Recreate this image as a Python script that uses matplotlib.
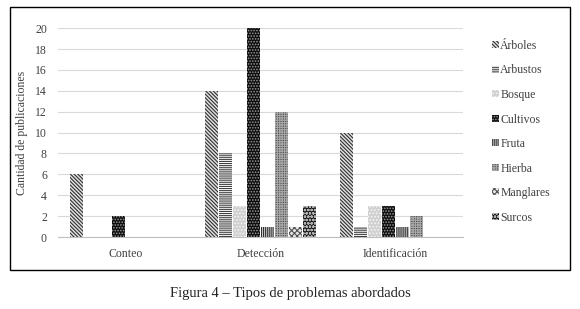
import matplotlib.pyplot as plt
import numpy as np
from matplotlib.patches import Rectangle

categorias = ["Conteo", "Detección", "Identificación"]
series = ["Árboles", "Arbustos", "Bosque", "Cultivos", "Fruta", "Hierba", "Manglares", "Surcos"]
arboles = [6, 14, 10]
arbustos = [0, 8, 1]
bosque = [0, 3, 3]
cultivos = [2, 20, 3]
fruta = [0, 1, 1]
hierba = [0, 12, 2]
manglares = [0, 1, 0]
surcos = [0, 3, 0]
valores = [arboles, arbustos, bosque, cultivos, fruta, hierba, manglares, surcos]

# (facecolor, hatch colour, hatch)
estilos = [
    ("#e0e0e0", "#303030", "\\" * 9),
    ("white", "#404040", "-" * 8),
    ("#d0d0d0", "#f4f4f4", "." * 5),
    ("#0d0d0d", "#9a9a9a", "." * 6),
    ("#d0d0d0", "#303030", "|" * 8),
    ("#505050", "#a8a8a8", "+" * 7),
    ("#e8e8e8", "#505050", "x" * 6),
    ("#151515", "#b0b0b0", "o" * 5),
]

plt.rcParams['font.family'] = ['Liberation Serif', 'DejaVu Serif']
plt.rcParams['hatch.linewidth'] = 0.8

fig = plt.figure(figsize=(5.8, 3.09), dpi=100)
ax = fig.add_axes([0.1, 0.233, 0.698, 0.676])

x = np.arange(len(categorias))
ancho = 0.104
for i, (nombre, vals) in enumerate(zip(series, valores)):
    fc, hc, h = estilos[i]
    off = (i - 3.5) * ancho
    ax.bar(x + off, vals, ancho * 0.92, color=fc, edgecolor=hc, hatch=h,
           linewidth=0, label=nombre, zorder=3)

ax.set_xlim(-0.5, 2.5)
ax.set_ylim(0, 20)
ax.set_yticks(range(0, 21, 2))
ax.set_xticks(x)
ax.set_xticklabels(categorias)
ax.grid(axis='y', color='#d9d9d9', linewidth=0.8, zorder=0)
for s in ['top', 'right', 'left']:
    ax.spines[s].set_visible(False)
ax.spines['bottom'].set_color('#bfbfbf')
ax.tick_params(length=0, labelsize=8.5, colors='#404040', pad=8)
ax.set_ylabel("Cantidad de publicaciones", fontsize=8.5, color='#404040', labelpad=5)

ax.legend(loc='upper left', bbox_to_anchor=(0.83, 0.905), bbox_transform=fig.transFigure,
          frameon=False, fontsize=8.5, handlelength=0.55, handleheight=0.55,
          handletextpad=0.15, labelspacing=1.06, labelcolor='#404040')

# outer frame
fig.patches.append(Rectangle((10 / 580, 1 - 270 / 309), 560 / 580, 263 / 309,
                             transform=fig.transFigure, fill=False,
                             edgecolor='black', linewidth=1))

fig.text(0.5, 1 - 293 / 309, "Figura 4 – Tipos de problemas abordados",
         ha='center', va='center', fontsize=10.5, color='#222222')

fig.savefig("out.png", dpi=100)
